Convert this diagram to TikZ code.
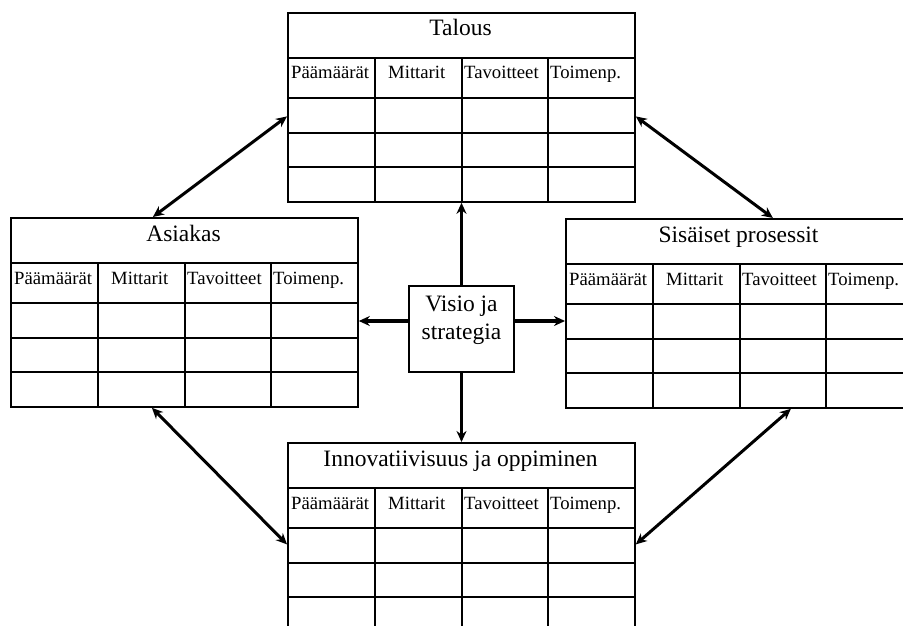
\documentclass[tikz,border=0pt]{standalone}
\usepackage{fontspec}
\setmainfont{Liberation Serif}
\usetikzlibrary{calc,arrows.meta}

\tikzset{
  taulukko/.style={draw, line width=1.8pt, minimum width=347pt, minimum height=189pt, inner sep=0pt, anchor=north west},
  vaakaviiva/.style={line width=1.7pt},
  pystyviiva/.style={line width=2.5pt},
  otsikko/.style={anchor=base, inner sep=0pt, font=\fontsize{23.5pt}{28pt}\selectfont},
  sarake/.style={anchor=base west, inner sep=0pt, font=\fontsize{18.7pt}{22pt}\selectfont},
  nuoli/.style={line width=3.2pt, -{Stealth[length=11pt,width=10pt]}},
  kaksinuoli/.style={line width=3pt, {Stealth[length=11pt,width=10pt]}-{Stealth[length=11pt,width=10pt]}},
}

\begin{document}
\begin{tikzpicture}[x=1pt,y=-1pt]
    % kuvan rajat (903 x 626)
    \useasboundingbox (0,0) rectangle (903,626);
    \clip (0,0) rectangle (903,626);

    % neljä näkökulmaa taulukkoina
    \foreach \nimi/\vx/\vy/\teksti in {talous/287/12/Talous,
        asiakas/10/217/Asiakas,
        sisaiset/565/218/Sisäiset prosessit,
        innovaatio/287/442/Innovatiivisuus ja oppiminen}{
      \begin{scope}[shift={(\vx,\vy)}]
        \node[taulukko] (\nimi) at (0,0) {};
        \node[otsikko] (\nimi-otsikko) at (173.5,24) {\teksti};
        % rivit ja sarakkeet
        \foreach \ry in {46,86,121,155}
          \draw[vaakaviiva] (0,\ry) -- (347,\ry);
        \foreach \cx in {88,175,261}
          \draw[pystyviiva] (\cx,46) -- (\cx,189);
        % sarakeotsikot
        \foreach \hx/\hteksti [count=\k] in {4/Päämäärät,101/Mittarit,177/Tavoitteet,263/Toimenp.}
          \node[sarake] (\nimi-s\k) at (\hx,67) {\hteksti};
      \end{scope}
    }

    % visio keskellä
    \node[draw, line width=1.8pt, minimum width=105pt, minimum height=86pt] (visio) at (461.5,329) {};
    \node[otsikko] (visio-yla) at (461.5,311) {Visio ja};
    \node[otsikko] (visio-ala) at (461.5,339) {strategia};

    % nuolet visiosta
    \draw[nuoli] (visio.north) -- (visio.north |- talous.south);
    \draw[nuoli] (visio.south) -- (visio.south |- innovaatio.north);
    \draw[nuoli] ([yshift=8pt]visio.west) -- ([yshift=8pt]visio.west -| asiakas.east);
    \draw[nuoli] ([yshift=8pt]visio.east) -- ([yshift=8pt]visio.east -| sisaiset.west);

    % kaksisuuntaiset nuolet
    \draw[kaksinuoli] ([xshift=-31.5pt]asiakas.north) -- ([yshift=-9pt]talous.west);
    \draw[kaksinuoli] ([yshift=-9pt]talous.east) -- ([xshift=33.5pt]sisaiset.north);
    \draw[kaksinuoli] ([xshift=-32.5pt]asiakas.south) -- ([yshift=-7pt]innovaatio.west);
    \draw[kaksinuoli] ([xshift=51.5pt]sisaiset.south) -- ([yshift=-7pt]innovaatio.east);
\end{tikzpicture}
\end{document}
